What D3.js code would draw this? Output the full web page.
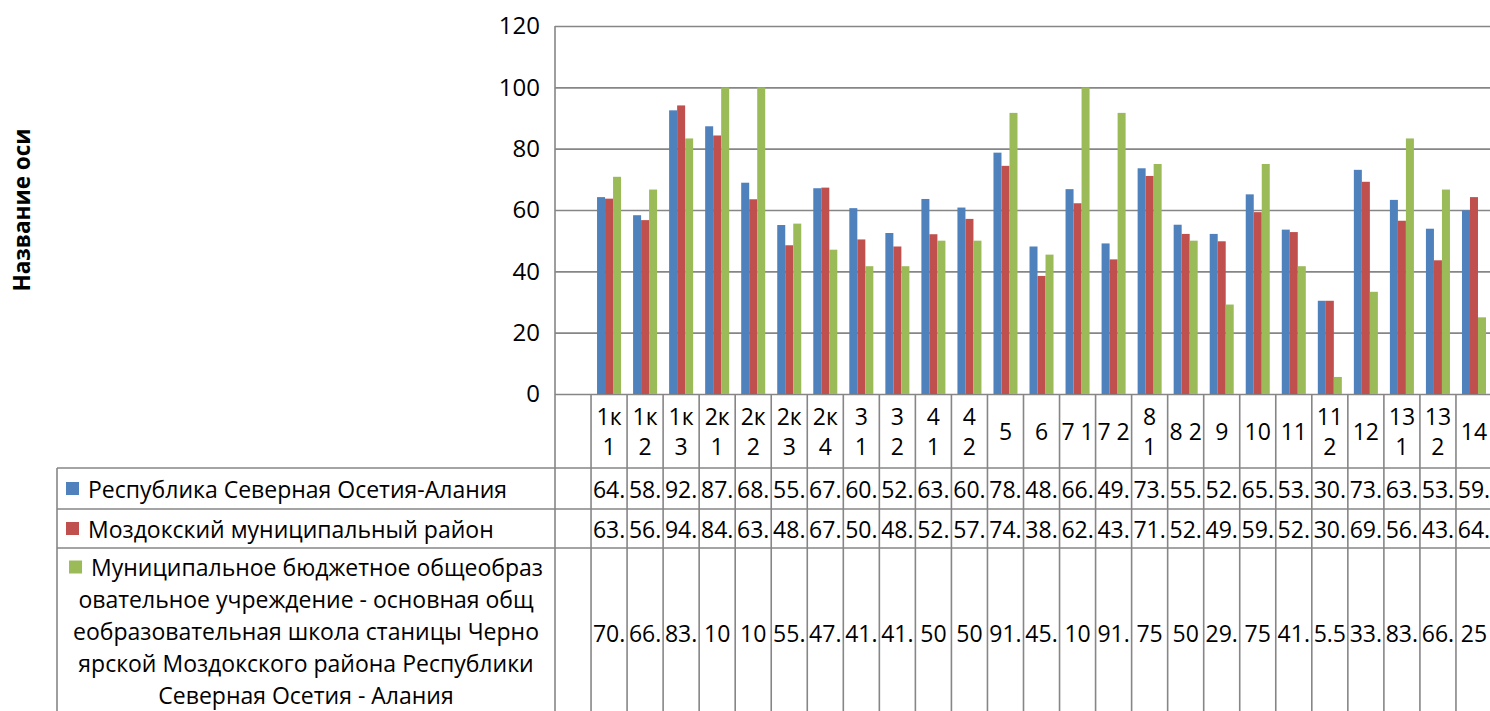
<!DOCTYPE html>
<html>
<head>
<meta charset="utf-8">
<script src="https://cdn.jsdelivr.net/npm/d3@7"></script>
<style>
  body { margin: 0; background: #fff; overflow: hidden; }
  text { font-family: "Open Sans", "Noto Sans", sans-serif; fill: #000; }
</style>
</head>
<body>
<div id="chart"></div>
<script>

// categories (line breaks as they wrap in the data table header)
var categories = ["1к\n1", "1к\n2", "1к\n3", "2к\n1", "2к\n2", "2к\n3", "2к\n4", "3\n1", "3\n2",
  "4\n1", "4\n2", "5", "6", "7 1", "7 2", "8\n1", "8 2", "9", "10", "11", "11\n2", "12",
  "13\n1", "13\n2", "14"];

var seriesNames = ["Республика Северная Осетия-Алания",
  "Моздокский муниципальный район",
  "Муниципальное бюджетное общеобразовательное учреждение - основная общеобразовательная школа станицы Черноярской Моздокского района Республики Северная Осетия - Алания"];

// legend cell text, wrapped the way the table shows it
var seriesLabelLines = [
  ["Республика Северная Осетия-Алания"],
  ["Моздокский муниципальный район"],
  ["Муниципальное бюджетное общеобраз", "овательное учреждение - основная общ",
   "еобразовательная школа станицы Черно", "ярской Моздокского района Республики",
   "Северная Осетия - Алания"]
];

var republicValues = [64.2, 58.3, 92.5, 87.3, 68.9, 55.1, 67.1, 60.6, 52.5, 63.6, 60.8, 78.7, 48.1,
  66.8, 49.1, 73.6, 55.2, 52.2, 65.1, 53.6, 30.4, 73.1, 63.3, 53.9, 59.9];
var districtValues = [63.7, 56.7, 94.1, 84.3, 63.5, 48.5, 67.3, 50.4, 48.1, 52.1, 57.1, 74.4, 38.5,
  62.2, 43.9, 71.1, 52.2, 49.8, 59.3, 52.8, 30.4, 69.2, 56.5, 43.6, 64.2];
var schoolValues = [70.83, 66.67, 83.33, 100, 100, 55.56, 47.06, 41.67, 41.67, 50, 50, 91.67, 45.45,
  100, 91.67, 75, 50, 29.17, 75, 41.67, 5.56, 33.33, 83.33, 66.67, 25];

var yTicks = [0, 20, 40, 60, 80, 100, 120];
var colors = ["#4F81BD", "#C0504D", "#9BBB59"];
var axisTitle = "Название оси";

function drawChart() {

  var width = 1490, height = 711;
  var plotLeft = 555, plotRight = 1492, plotTop = 26, plotBottom = 394;
  var tableLeft = 57;
  // bottom edges of header row and the three series rows
  var rowEdges = [plotBottom, 468, 509, 548, 718];
  var gridColor = "#868686";

  var allValues = [republicValues, districtValues, schoolValues];

  var svg = d3.select("#chart").append("svg")
    .attr("width", width)
    .attr("height", height);

  // the table starts with one blank column, as in the sheet
  var x = d3.scaleBand()
    .domain(["__blank"].concat(categories))
    .range([plotLeft, plotRight]);

  var x1 = d3.scaleBand()
    .domain(d3.range(seriesNames.length))
    .range([x.bandwidth() / 6, x.bandwidth() * 5 / 6]);

  var y = d3.scaleLinear()
    .domain([0, 120])
    .range([plotBottom, plotTop]);

  // gridlines + tick labels
  var yAxis = d3.axisLeft(y)
    .tickValues(yTicks)
    .tickSize(-(plotRight - plotLeft))
    .tickPadding(15);

  var yG = svg.append("g")
    .attr("transform", "translate(" + plotLeft + ",0)")
    .call(yAxis);
  yG.select(".domain").remove();
  yG.selectAll("line").attr("stroke", gridColor).attr("stroke-width", 1.6);
  yG.selectAll("text")
    .style("font-family", "'Open Sans', sans-serif")
    .style("font-size", "24px")
    .attr("fill", "#000");

  // axis title
  svg.append("text")
    .attr("transform", "translate(30," + ((plotTop + plotBottom) / 2) + ") rotate(-90)")
    .attr("text-anchor", "middle")
    .style("font-size", "22.5px")
    .style("font-weight", "bold")
    .text(axisTitle);

  // bars
  var barGroups = svg.append("g").selectAll("g")
    .data(categories)
    .join("g")
    .attr("transform", function(d) { return "translate(" + x(d) + ",0)"; });

  barGroups.selectAll("rect")
    .data(function(d, i) {
      return allValues.map(function(vals, s) { return {s: s, v: vals[i]}; });
    })
    .join("rect")
    .attr("x", function(d) { return x1(d.s); })
    .attr("y", function(d) { return y(d.v); })
    .attr("width", x1.bandwidth())
    .attr("height", function(d) { return y(0) - y(d.v); })
    .attr("fill", function(d) { return colors[d.s]; });

  // data table
  var table = svg.append("g");
  var lineAttrs = function(sel) { sel.attr("stroke", gridColor).attr("stroke-width", 1.6); };

  // left axis / first column line
  table.append("line")
    .attr("x1", plotLeft).attr("x2", plotLeft)
    .attr("y1", plotTop).attr("y2", rowEdges[4])
    .call(lineAttrs);

  // column separators
  table.selectAll("line.col")
    .data(categories)
    .join("line")
    .attr("class", "col")
    .attr("x1", function(d) { return x(d); })
    .attr("x2", function(d) { return x(d); })
    .attr("y1", plotBottom).attr("y2", rowEdges[4])
    .call(lineAttrs);

  // row separators
  table.selectAll("line.row")
    .data(rowEdges.slice(1))
    .join("line")
    .attr("class", "row")
    .attr("x1", tableLeft).attr("x2", plotRight)
    .attr("y1", function(d) { return d; })
    .attr("y2", function(d) { return d; })
    .call(lineAttrs);

  table.append("line")
    .attr("x1", tableLeft).attr("x2", tableLeft)
    .attr("y1", rowEdges[1]).attr("y2", rowEdges[4])
    .call(lineAttrs);

  // category header labels
  var headerMid = (rowEdges[0] + rowEdges[1]) / 2;
  var lineStep = 30;
  table.selectAll("text.cat")
    .data(categories)
    .join("text")
    .attr("class", "cat")
    .attr("text-anchor", "middle")
    .style("font-size", "23px")
    .each(function(d) {
      var lines = d.split("\n");
      var t = d3.select(this);
      lines.forEach(function(l, k) {
        t.append("tspan")
          .attr("x", x(d) + x.bandwidth() / 2)
          .attr("y", headerMid + (k - (lines.length - 1) / 2) * lineStep)
          .attr("dominant-baseline", "central")
          .text(l);
      });
    });

  // series rows
  seriesNames.forEach(function(name, s) {
    var top = rowEdges[s + 1], bottom = rowEdges[s + 2];
    var mid = (top + bottom) / 2;
    var lines = seriesLabelLines[s];
    var step = 32;

    lines.forEach(function(l, k) {
      var ly = mid + (k - (lines.length - 1) / 2) * step - (lines.length > 1 ? 2 : 0);
      var lbl = table.append("text")
        .attr("dominant-baseline", "central")
        .style("font-size", "23px")
        .text(l);
      var w = lbl.node().getComputedTextLength();
      var startX;
      if (lines.length === 1) {
        startX = 88;
      } else {
        var extra = k === 0 ? 22 : 0;
        startX = (tableLeft + plotLeft) / 2 - (w + extra) / 2 + extra;
      }
      lbl.attr("x", startX).attr("y", ly);
      if (k === 0) {
        table.append("rect")
          .attr("x", startX - 22).attr("y", ly - 6.5)
          .attr("width", 13).attr("height", 13)
          .attr("fill", colors[s]);
      }
    });

    // values, cut to whole characters that fit the cell
    allValues[s].forEach(function(v, i) {
      var cx = x(categories[i]) + x.bandwidth() / 2;
      var full = String(+v.toFixed(2));
      var t = table.append("text")
        .attr("x", cx).attr("y", mid)
        .attr("text-anchor", "middle")
        .attr("dominant-baseline", "central")
        .style("font-size", "23px")
        .text(full);
      var shown = full;
      while (shown.length > 1 && t.node().getComputedTextLength() > x.bandwidth() - 2) {
        shown = shown.slice(0, -1);
        t.text(shown);
      }
    });
  });
}

drawChart();
</script>
</body>
</html>
